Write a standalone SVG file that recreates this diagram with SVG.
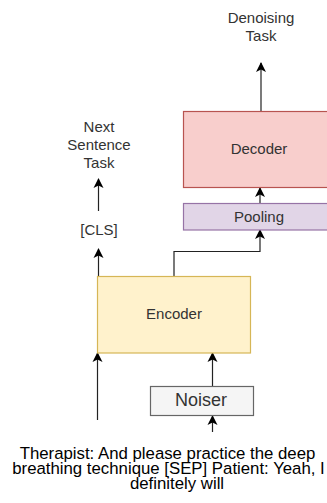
<svg xmlns="http://www.w3.org/2000/svg" width="327" height="503" viewBox="0 0 327 503">
<style>
text{font-family:"Liberation Sans",Arial,sans-serif;fill:#333;text-anchor:middle}
.lbl{font-size:15px}
.big{font-size:18px}
.cap{font-size:16.8px;fill:#000}
.edge{fill:none;stroke:#222;stroke-width:1.2}
</style>
<defs>
<marker id="ah" markerUnits="userSpaceOnUse" markerWidth="10" markerHeight="12" viewBox="0 0 10 12" refX="9" refY="6" orient="auto">
<path d="M0,1 L10,6 L0,11 L2.5,6 z" fill="#000"/>
</marker>
</defs>
<g id="connectors">
<path class="edge" d="M261,111 V63" marker-end="url(#ah)"/>
<path class="edge" d="M260,203 V188" marker-end="url(#ah)"/>
<path class="edge" d="M174,276 V251.5 H260 V230" marker-end="url(#ah)"/>
<path class="edge" d="M98.5,276 V249" marker-end="url(#ah)"/>
<path class="edge" d="M98.5,211 V179" marker-end="url(#ah)"/>
<path class="edge" d="M97.5,420 V353" marker-end="url(#ah)"/>
<path class="edge" d="M212.5,386 V353" marker-end="url(#ah)"/>
<path class="edge" d="M212.5,432 V416" marker-end="url(#ah)"/>
</g>
<g id="denoising-task">
<text class="lbl" x="261" y="22.5">Denoising</text>
<text class="lbl" x="261" y="41">Task</text>
</g>
<g id="decoder">
<rect x="183.5" y="111.5" width="150" height="76" fill="#f8cecc" stroke="#b85450" stroke-width="1.2"/>
<text class="lbl" x="259" y="154">Decoder</text>
</g>
<g id="pooling">
<rect x="183.5" y="203.5" width="150" height="26.5" fill="#e1d5e7" stroke="#9673a6" stroke-width="1.2"/>
<text class="lbl" x="259" y="222">Pooling</text>
</g>
<g id="next-sentence-task">
<text class="lbl" x="99" y="132">Next</text>
<text class="lbl" x="99" y="150">Sentence</text>
<text class="lbl" x="99" y="168">Task</text>
</g>
<g id="cls">
<text class="lbl" x="99" y="235">[CLS]</text>
</g>
<g id="encoder">
<rect x="97.5" y="276.5" width="153" height="76.5" fill="#fff2cc" stroke="#d6b656" stroke-width="1.2"/>
<text class="lbl" x="174" y="319">Encoder</text>
</g>
<g id="noiser">
<rect x="150.5" y="386.5" width="103" height="29" fill="#f5f5f5" stroke="#666666" stroke-width="1.2"/>
<text class="big" x="201" y="406">Noiser</text>
</g>
<g id="input-text">
<text class="cap" x="167.5" y="459">Therapist: And please practice the deep</text>
<text class="cap" x="168.5" y="474">breathing technique [SEP] Patient: Yeah, I</text>
<text class="cap" x="177" y="489">definitely will</text>
</g>
</svg>
